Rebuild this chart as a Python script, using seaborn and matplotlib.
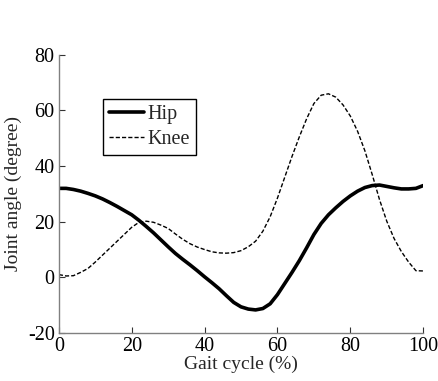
import numpy as np
import pandas as pd
import matplotlib
matplotlib.use("Agg")
import matplotlib.pyplot as plt
import seaborn as sns

gait = [0, 2, 4, 6, 8, 10, 12, 14, 16, 18, 20, 22, 24, 26, 28, 30, 32, 34, 36, 38,
        40, 42, 44, 46, 48, 50, 52, 54, 56, 58, 60, 62, 64, 66, 68, 70, 72, 74, 76, 78,
        80, 82, 84, 86, 88, 90, 92, 94, 96, 98, 100]
hip = [32, 32, 31.6, 31, 30.2, 29.3, 28.2, 26.9, 25.5, 24, 22.5, 20.5, 18.3, 16, 13.5,
       11, 8.6, 6.5, 4.5, 2.4, 0.2, -1.9, -4.1, -6.6, -9, -10.6, -11.4, -11.7, -11.2, -9.5,
       -6.2, -2.2, 1.8, 6, 10.6, 15.4, 19.4, 22.5, 25, 27.3, 29.3, 31, 32.3, 33, 33.2, 32.7,
       32.2, 31.8, 31.8, 32, 33]
knee = [1, 0.5, 0.6, 1.8, 3.2, 5.5, 8, 10.5, 13, 15.5, 18, 19.8, 20.2, 19.8, 18.8, 17.6,
        15.6, 13.7, 12.1, 10.9, 10, 9.2, 8.8, 8.7, 8.9, 9.6, 11, 13, 16.6, 21.8, 28.5, 36, 43.5,
        50.5, 57, 62.5, 65.5, 66, 64.8, 62, 58, 52.5, 45.5, 37, 28, 20.2, 14, 9.3, 5.5,
        2.4, 2.3]
xticks = [0, 20, 40, 60, 80, 100]
yticks = [-20, 0, 20, 40, 60, 80]

sns.set_style("ticks")
plt.rcParams['font.family'] = ['Liberation Serif', 'DejaVu Serif']

fig = plt.figure(figsize=(4.39, 3.81), dpi=100)
ax = fig.add_axes([0.134, 0.126, 0.830, 0.730])

df = pd.DataFrame({"x": gait, "hip": hip, "knee": knee})
sns.lineplot(data=df, x="x", y="hip", ax=ax, color="black", lw=2.6, label="Hip")
sns.lineplot(data=df, x="x", y="knee", ax=ax, color="black", lw=1.0, linestyle=(0, (3, 1.5)), label="Knee")

ax.set_xlim(0, 100)
ax.set_ylim(-20, 80)
ax.set_xticks(xticks)
ax.set_yticks(yticks)
ax.set_xticklabels([str(t) for t in xticks])
ax.set_yticklabels([str(t) for t in yticks])
ax.tick_params(direction="in", length=4, width=0.8, colors="#333333", labelcolor="black",
               labelsize=14.5, pad=3)
for s in ["top", "right"]:
    ax.spines[s].set_visible(False)
for s in ["left", "bottom"]:
    ax.spines[s].set_color("#808080")
    ax.spines[s].set_linewidth(1.0)

ax.set_xlabel("Gait cycle (%)", fontsize=14, labelpad=0)
ax.set_ylabel("Joint angle (degree)", fontsize=14, labelpad=4)

leg = ax.legend(loc="upper left", bbox_to_anchor=(0.121, 0.842), fontsize=14.5, frameon=True,
                fancybox=False, edgecolor="black", handlelength=1.75, handletextpad=0.15,
                borderpad=0.3, labelspacing=0.3, borderaxespad=0)
leg.get_frame().set_linewidth(1.0)
leg.get_frame().set_alpha(1)

fig.savefig("out.png", dpi=100)
